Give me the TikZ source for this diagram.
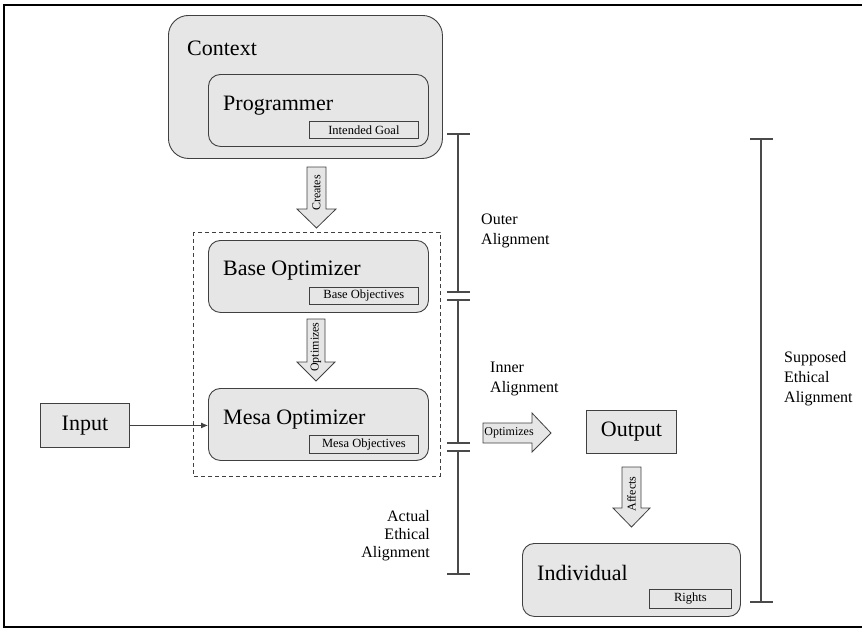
\documentclass[tikz,border=0pt]{standalone}
\usepackage{fontspec}
\setmainfont{Liberation Serif}
\usetikzlibrary{arrows.meta}
\definecolor{boxfill}{HTML}{E6E6E6}
\definecolor{boxline}{HTML}{404040}
\definecolor{barcol}{HTML}{4A4A4A}
\tikzset{
  rbox/.style={draw=boxline, fill=boxfill, line width=0.9pt, rounded corners=12pt, anchor=north west, inner sep=0pt},
  pbox/.style={draw=boxline, fill=boxfill, line width=0.9pt, anchor=north west, inner sep=0pt, font=\fontsize{22}{26}\selectfont},
  objbox/.style={draw=boxline, fill=boxfill, line width=0.8pt, anchor=north west, inner sep=0pt, font=\fontsize{12.5}{14}\selectfont},
  bigtxt/.style={anchor=base west, inner sep=0pt, font=\fontsize{22}{26}\selectfont},
  lbl/.style={anchor=north west, inner sep=0pt, align=left, font=\fontsize{16}{20}\selectfont},
  blockarrow/.style={draw=boxline, fill=boxfill, line width=0.8pt, line join=miter},
  arrtxt/.style={inner sep=0pt, font=\fontsize{12}{14}\selectfont},
  bar/.style={draw=barcol, line width=2.4pt},
  frame/.style={draw=black, line width=2.2pt}
}
\begin{document}
\begin{tikzpicture}[x=1pt,y=-1pt]
\useasboundingbox (0,0) rectangle (862,630);
% frame
\draw[frame] (862,5) -- (4,5) -- (4,627) -- (862,627);

% Context
\node[rbox, rounded corners=20pt, minimum width=274pt, minimum height=143pt] (context) at (168,15) {};
\node[bigtxt] (contexttxt) at (187,55) {Context};
\node[rbox, minimum width=220pt, minimum height=72pt] (prog) at (208,74) {};
\node[bigtxt] (progtxt) at (223,110) {Programmer};
\node[objbox, minimum width=109pt, minimum height=17pt] (goal) at (309,121) {Intended Goal};

% Creates arrow
\draw[blockarrow] (307,167) -- (326,167) -- (326,209) -- (336,209) -- (316.5,228) -- (297,209) -- (307,209) -- cycle;
\node[arrtxt, rotate=90] (creates) at (316.5,193) {Creates};

% dashed group
\draw[draw=boxline, line width=0.8pt, dash pattern=on 4pt off 3pt] (193,232) rectangle (440,476);

% Base optimizer
\node[rbox, minimum width=220pt, minimum height=72pt] (base) at (208,240) {};
\node[bigtxt] (basetxt) at (223,275) {Base Optimizer};
\node[objbox, minimum width=109pt, minimum height=17pt] (baseobj) at (309,287) {Base Objectives};

% Optimizes vertical arrow
\draw[blockarrow] (307,319) -- (325,319) -- (325,362) -- (335,362) -- (316,381) -- (297,362) -- (307,362) -- cycle;
\node[arrtxt, rotate=90] (optv) at (316,347) {Optimizes};

% Mesa optimizer
\node[rbox, minimum width=220pt, minimum height=72pt] (mesa) at (208,388) {};
\node[bigtxt] (mesatxt) at (223,424) {Mesa Optimizer};
\node[objbox, minimum width=109pt, minimum height=18pt] (mesaobj) at (309,435) {Mesa Objectives};

% Input
\node[pbox, minimum width=89pt, minimum height=44pt] (input) at (40,403) {Input};
\draw[boxline, line width=0.8pt, -{Latex[length=7pt,width=6pt]}] (input.east) -- (mesa.west |- input.east);

% Optimizes horizontal arrow
\draw[blockarrow] (483,423) -- (532,423) -- (532,413) -- (551,433) -- (532,452) -- (532,443) -- (483,443) -- cycle;
\node[arrtxt] (opth) at (509,433) {Optimizes};

% Output
\node[pbox, minimum width=90pt, minimum height=43pt] (output) at (586,410) {Output};

% Affects arrow
\draw[blockarrow] (622,467) -- (641,467) -- (641,508) -- (650,508) -- (631.5,527) -- (613,508) -- (622,508) -- cycle;
\node[arrtxt, rotate=90] (affects) at (631.5,494) {Affects};

% Individual
\node[rbox, minimum width=218pt, minimum height=73pt] (indiv) at (522,543) {};
\node[bigtxt] (indivtxt) at (537,580) {Individual};
\node[objbox, minimum width=82pt, minimum height=19pt] (rights) at (649,589) {Rights};

% Brackets
\coordinate (oa1) at (458,134);
\coordinate (oa2) at (458,292);
\draw[bar] (oa1) -- (oa2);
\draw[bar] (447,134) -- (470,134);
\draw[bar] (447,292) -- (470,292);

\coordinate (ia1) at (458,300);
\coordinate (ia2) at (458,443);
\draw[bar] (ia1) -- (ia2);
\draw[bar] (447,300) -- (470,300);
\draw[bar] (447,443) -- (470,443);

\coordinate (ae1) at (458,451);
\coordinate (ae2) at (458,574);
\draw[bar] (ae1) -- (ae2);
\draw[bar] (447,451) -- (470,451);
\draw[bar] (447,574) -- (470,574);

\coordinate (se1) at (761,139);
\coordinate (se2) at (761,602);
\draw[bar] (se1) -- (se2);
\draw[bar] (750,139) -- (773,139);
\draw[bar] (750,602) -- (773,602);

% Labels
\node[lbl] (outerlbl) at (481,214) {Outer\\Alignment};
\node[lbl] (innerlbl) at (490,362) {Inner\\Alignment};
\node[lbl, anchor=north east, align=right, font=\fontsize{16}{18}\selectfont] (actuallbl) at (430,510) {Actual\\Ethical\\Alignment};
\node[lbl] (supposedlbl) at (784,351) {Supposed\\Ethical\\Alignment};
\end{tikzpicture}
\end{document}
